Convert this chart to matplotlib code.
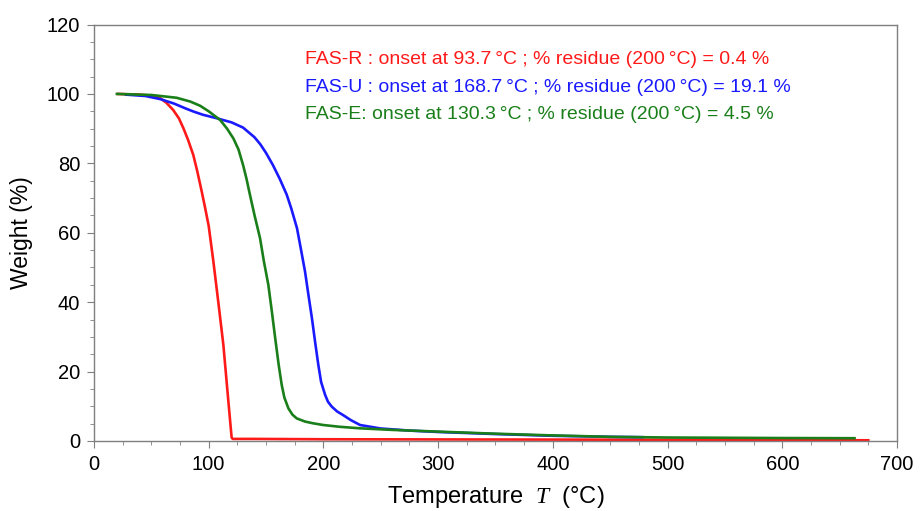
import matplotlib
matplotlib.use("Agg")
import matplotlib.pyplot as plt
from matplotlib.ticker import MultipleLocator

plt.rcParams['font.family'] = ['Liberation Sans', 'DejaVu Sans']
plt.rcParams['mathtext.fontset'] = 'custom'
plt.rcParams['mathtext.it'] = 'Liberation Serif:italic'
plt.rcParams['mathtext.rm'] = 'Liberation Sans'

# FAS-R
red_T = [21, 40, 50, 57.6, 63, 69, 74, 78, 82, 86.6, 90, 94, 97, 100, 104, 108.4, 112.8, 117.2, 120, 121,
         140, 200, 300, 400, 500, 600, 675]
red_W = [100, 99.8, 99.5, 98.8, 97.5, 95.4, 93, 90.1, 86.8, 82.4, 77.8, 71.8, 67, 62, 52, 40, 27.7, 11.3, 1.0, 0.6,
         0.6, 0.5, 0.45, 0.4, 0.35, 0.3, 0.2]
# FAS-U
blue_T = [28, 45, 58, 70, 80, 87, 95, 107, 120, 130, 140, 145, 150, 156, 162, 168, 172, 177, 180, 184, 187, 190,
          193, 195.6, 198, 201.5, 204, 207.3, 212, 217, 224, 232, 250, 275, 300, 350, 400, 450, 478]
blue_W = [99.8, 99.4, 98.5, 97.2, 95.8, 94.9, 94.0, 93, 91.8, 90.3, 87.5, 85.5, 83, 79.5, 75.5, 71, 67, 61.3, 56,
          48.8, 42, 35.4, 28, 21.9, 17, 13.3, 11.3, 9.9, 8.5, 7.5, 6, 4.6, 3.6, 3.0, 2.6, 2.0, 1.5, 1.2, 1.1]
# FAS-E
green_T = [20, 50, 72, 84, 92.5, 100, 110, 116, 121.5, 126, 130, 133, 136, 140, 144.8, 148, 152, 155, 158, 161,
           163.7, 166, 169.5, 173, 176.8, 184, 191, 200, 214, 232, 260, 300, 350, 400, 450, 500, 600, 663]
green_W = [100, 99.7, 98.9, 97.8, 96.6, 95, 92.5, 90, 87.2, 84, 79.5, 75.5, 70.9, 65, 58.4, 52, 45, 37.5, 29.6, 22,
           16.1, 12.5, 9.4, 7.6, 6.5, 5.6, 5.1, 4.6, 4.1, 3.65, 3.2, 2.7, 2.1, 1.6, 1.2, 1.0, 0.85, 0.8]

labels = ["FAS-R : onset at 93.7\u2009\u00b0C ; % residue (200\u2009\u00b0C) = 0.4 %",
          "FAS-U : onset at 168.7\u2009\u00b0C ; % residue (200\u2009\u00b0C) = 19.1 %",
          "FAS-E: onset at 130.3\u2009\u00b0C ; % residue (200\u2009\u00b0C) = 4.5 %"]
colors = ['#ff1a1a', '#1a1aff', '#1a7f1a']

fig = plt.figure(figsize=(9.23, 5.11), dpi=100)
ax = fig.add_axes([0.1018, 0.137, 0.8700, 0.815])

ax.plot(red_T, red_W, color=colors[0], lw=1.9)
ax.plot(blue_T, blue_W, color=colors[1], lw=1.9)
ax.plot(green_T, green_W, color=colors[2], lw=1.9)

ax.set_xlim(0, 700)
ax.set_ylim(0, 120)
ax.xaxis.set_major_locator(MultipleLocator(100))
ax.xaxis.set_minor_locator(MultipleLocator(25))
ax.yaxis.set_major_locator(MultipleLocator(20))
ax.yaxis.set_minor_locator(MultipleLocator(5))
for s in ax.spines.values():
    s.set_color('#7f7f7f')
    s.set_linewidth(1.0)
ax.tick_params(which='both', direction='out', color='#7f7f7f', top=False, right=False)
ax.tick_params(which='major', length=5, labelsize=14.5, pad=5)
ax.tick_params(which='minor', length=3)

ax.set_xlabel("Temperature  $T$  (\u00b0C)", fontsize=17, labelpad=7)
ax.set_ylabel("Weight (%)", fontsize=16.5, labelpad=10)

ys = [0.915, 0.849, 0.783]
for lab, c, y in zip(labels, colors, ys):
    ax.text(0.263, y, lab, color=c, fontsize=14, transform=ax.transAxes, va='center', ha='left')

fig.savefig("out.png", dpi=100)
